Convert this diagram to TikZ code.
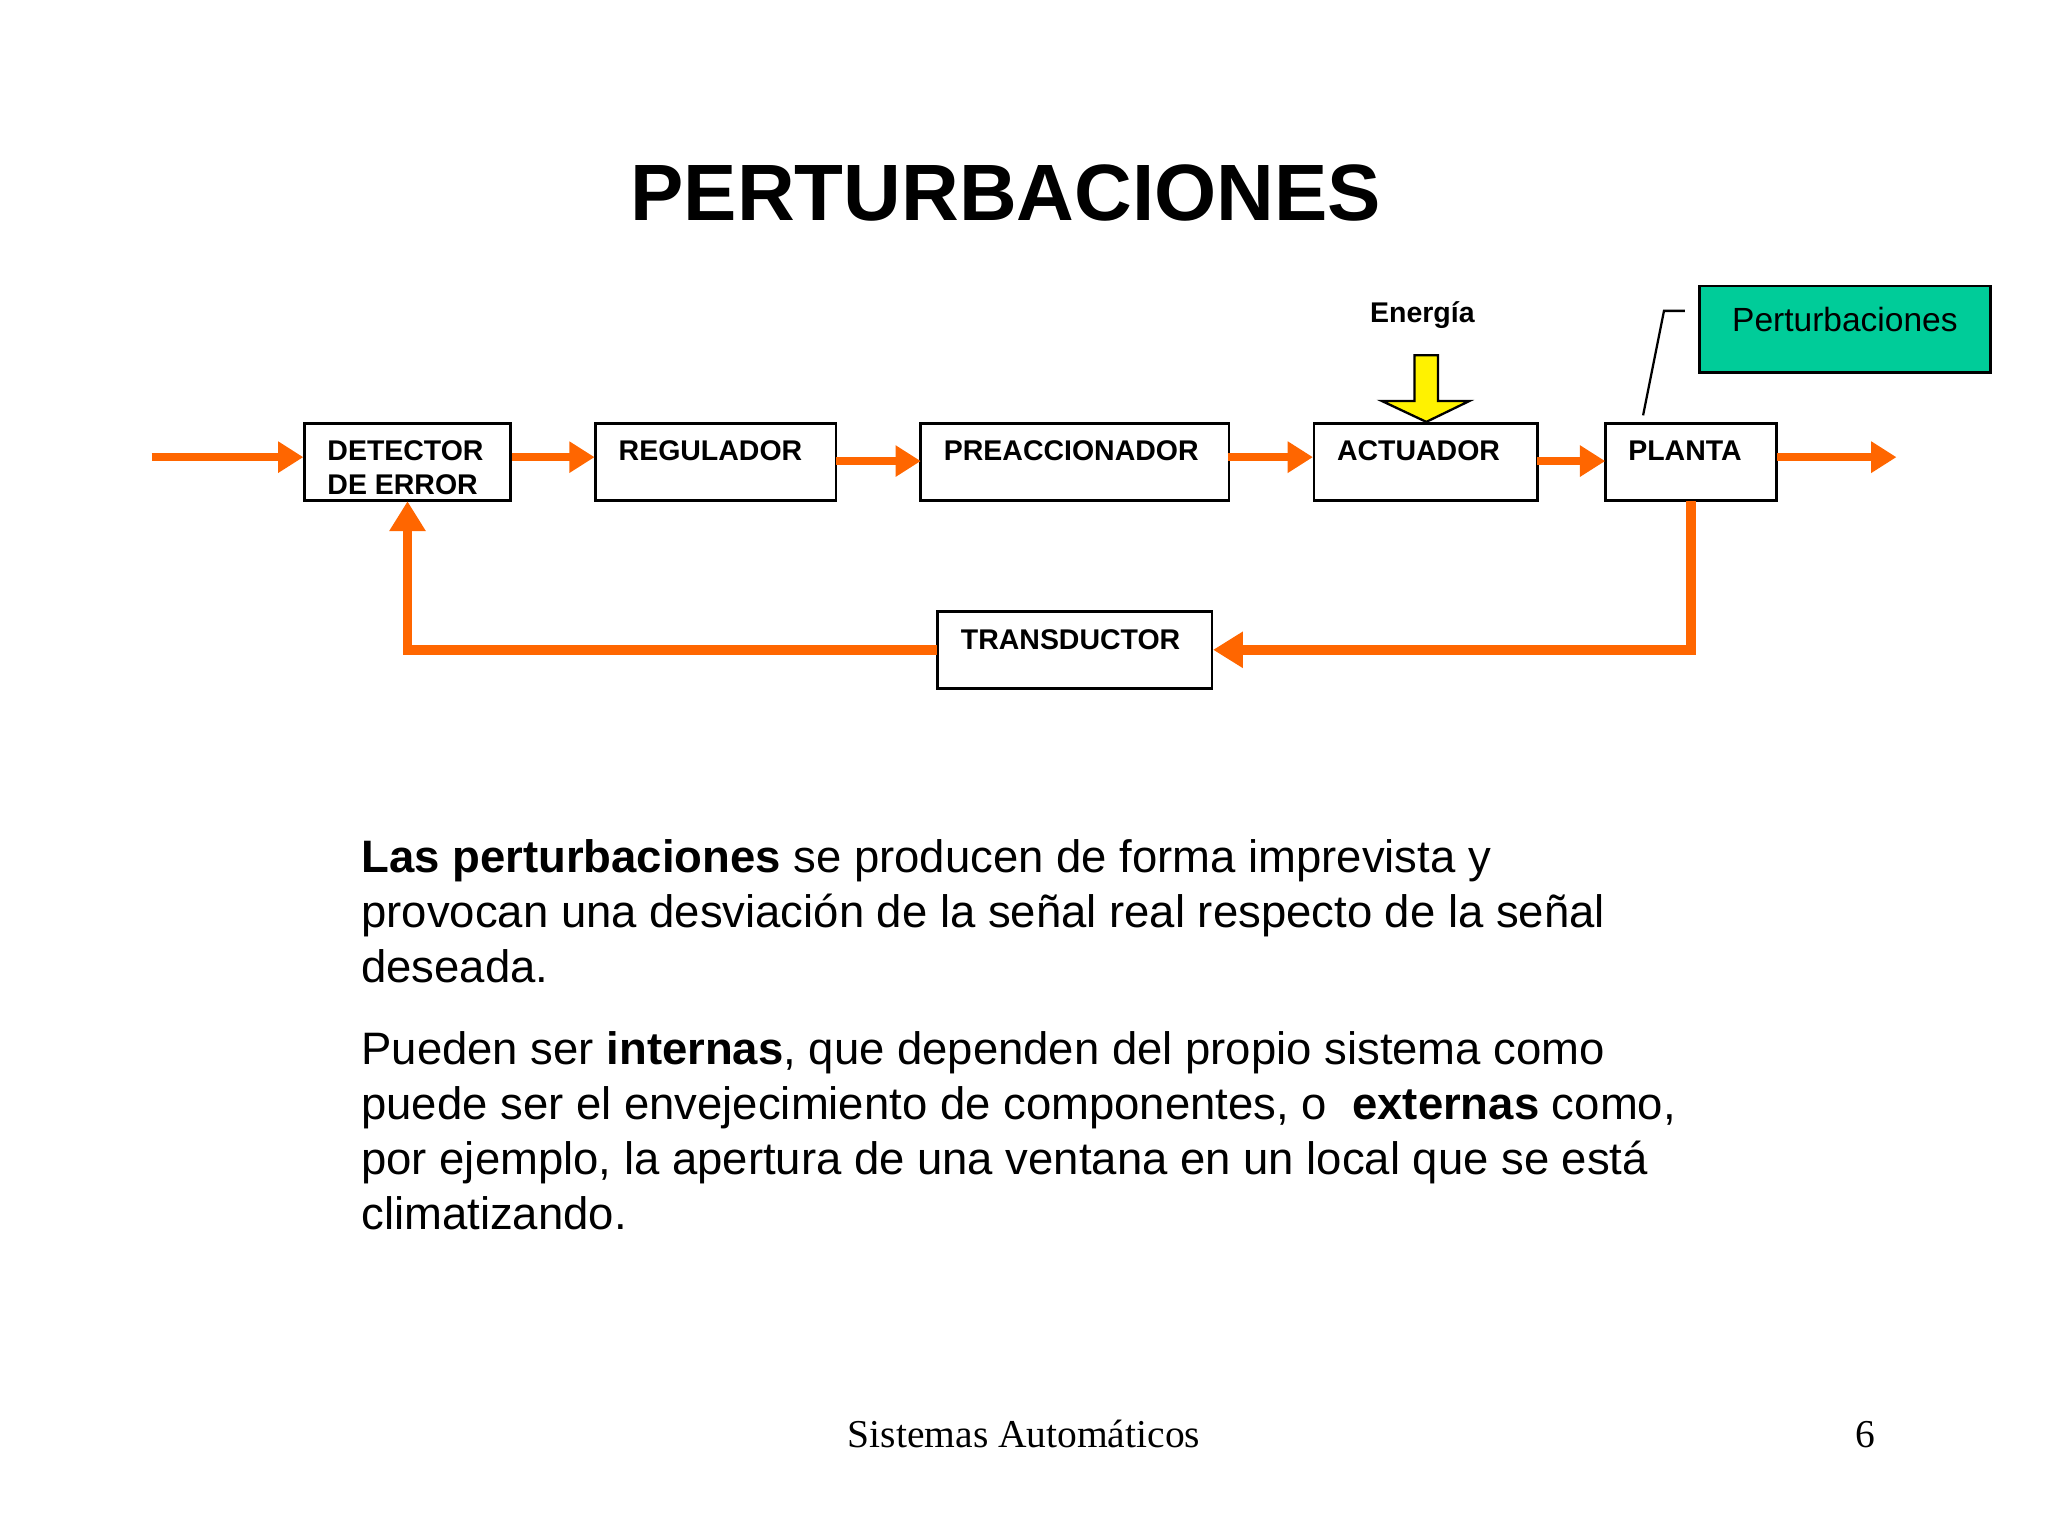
\documentclass[tikz,border=0pt]{standalone}
\usepackage{fontspec}
\setmainfont{Liberation Sans}
\newfontfamily\footfont{Liberation Serif}
\usetikzlibrary{arrows.meta}
\definecolor{orng}{RGB}{255,102,0}
\definecolor{pgreen}{RGB}{0,204,153}
\tikzset{
 blk/.style={draw,line width=0.6pt,inner sep=0},
 lbl/.style={font=\fontsize{6.2}{7.4}\selectfont\bfseries,anchor=north west,align=left,inner sep=0},
 flow/.style={orng,line width=1.6pt,-{Triangle[length=5.5pt,width=6.5pt]}},
 fback/.style={orng,line width=2.1pt,-{Triangle[length=6.5pt,width=7.5pt]}},
 body/.style={anchor=base west,inner sep=0,font=\fontsize{9.9}{11}\selectfont}
}
\begin{document}
\begin{tikzpicture}[x=0.01cm,y=-0.01cm]
\useasboundingbox (0,0) rectangle (1568,1172);
\node[font=\fontsize{17.4}{20}\selectfont\bfseries] (title) at (770,148) {PERTURBACIONES};
% boxes
\draw[blk] (233,324) rectangle (391,383); \node (det) at (312,353.5) [minimum width=1.58cm,minimum height=0.59cm]{};
\draw[blk] (456,324) rectangle (640,383); \node (reg) at (548,353.5) [minimum width=1.84cm,minimum height=0.59cm]{};
\draw[blk] (705,324) rectangle (941,383); \node (pre) at (823,353.5) [minimum width=2.36cm,minimum height=0.59cm]{};
\draw[blk] (1006,324) rectangle (1177,383); \node (act) at (1091.5,353.5) [minimum width=1.71cm,minimum height=0.59cm]{};
\draw[blk] (1229,324) rectangle (1360,383); \node (pla) at (1294.5,353.5) [minimum width=1.31cm,minimum height=0.59cm]{};
\draw[blk] (718,468) rectangle (928,527); \node (tra) at (823,497.5) [minimum width=2.1cm,minimum height=0.59cm]{};
\node[lbl] (t1) at (250,337) {DETECTOR\\DE ERROR};
\node[lbl] (t2) at (473,337) {REGULADOR};
\node[lbl] (t3) at (722,337) {PREACCIONADOR};
\node[lbl] (t4) at (1023,337) {ACTUADOR};
\node[lbl] (t5) at (1246,337) {PLANTA};
\node[lbl] (t6) at (735,481) {TRANSDUCTOR};
% perturbaciones
\draw[fill=pgreen,line width=0.6pt] (1301,219) rectangle (1524,285);
\node[font=\fontsize{7.3}{9}\selectfont] (pert) at (1412.5,245) {Perturbaciones};
\coordinate (pa) at (1290,238); \coordinate (pb) at (1274,238); \coordinate (pc) at (1258,318);
\draw[line width=0.5pt] (pa) -- (pb) -- (pc);
% energia
\node[font=\fontsize{6.2}{7}\selectfont\bfseries] (en) at (1089,241) {Energía};
\draw[fill=yellow,line width=0.5pt] (1083,272) -- (1101,272) -- (1101,307) -- (1125,307) -- (1092,323) -- (1058,307) -- (1083,307) -- cycle;
% flows
\coordinate (in) at (116,350); \coordinate (out) at (1452,350);
\draw[flow] (in) -- (det.west |- in);
\draw[flow] (det.east |- in) -- (reg.west |- in);
\draw[flow] (640,353) -- (705,353);
\draw[flow] (act.west |- in) ++(-65,0) -- (act.west |- in);
\draw[flow] (1177,353) -- (1229,353);
\draw[flow] (pla.east |- in) -- (out);
\draw[fback] (pla.south) -- (pla.south |- tra) -- (tra.east);
\draw[fback] (tra.west) -- (det.south |- tra) -- (det.south);
% body
\node[body] (b1) at (276,668) {\textbf{Las perturbaciones} se producen de forma imprevista y};
\node[body] (b2) at (276,710) {provocan una desviación de la señal real respecto de la señal};
\node[body] (b3) at (276,752) {deseada.};
\node[body] (b4) at (276,815) {Pueden ser \textbf{internas}, que dependen del propio sistema como};
\node[body] (b5) at (276,857) {puede ser el envejecimiento de componentes, o \ \textbf{externas} como,};
\node[body] (b6) at (276,899) {por ejemplo, la apertura de una ventana en un local que se está};
\node[body] (b7) at (276,941) {climatizando.};
\node[font=\footfont\fontsize{8.6}{10}\selectfont,anchor=base] (f1) at (784,1108) {Sistemas Automáticos};
\node[font=\footfont\fontsize{8.6}{10}\selectfont,anchor=base] (f2) at (1428,1108) {6};
\end{tikzpicture}
\end{document}
